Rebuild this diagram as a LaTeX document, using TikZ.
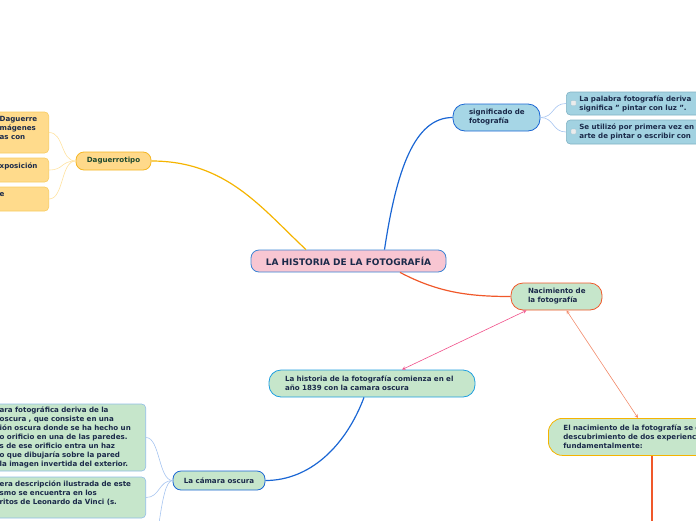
\documentclass[tikz,border=0pt]{standalone}
\usepackage{fontspec}
\setmainfont{DejaVu Sans}
\usepackage{tikz}
\usetikzlibrary{positioning}
\usetikzlibrary{arrows}
\tikzset{>=stealth}

\definecolor{txtnavy}{HTML}{1B2A4A}
\definecolor{txtgreen}{HTML}{1F4A2F}
\definecolor{pinkfill}{HTML}{F8C6D2}
\definecolor{greenfill}{HTML}{C6E6CB}
\definecolor{bluefill}{HTML}{A6D6E6}
\definecolor{leafblue}{HTML}{A2D2E1}
\definecolor{yellowfill}{HTML}{FFD98A}
\definecolor{leafyellow}{HTML}{FFDB8C}
\definecolor{mainblue}{HTML}{3B84D4}
\definecolor{darkblue}{HTML}{1A66D4}
\definecolor{cyanblue}{HTML}{1E9FE0}
\definecolor{orangered}{HTML}{F0582A}
\definecolor{goldline}{HTML}{F5B400}
\definecolor{goldborder}{HTML}{F5B623}
\definecolor{paleyellow}{HTML}{F8CB60}
\definecolor{yellowcurve}{HTML}{FFE2A0}
\definecolor{grayblue}{HTML}{80B2C4}
\definecolor{paleblue}{HTML}{90BDE6}
\definecolor{bluecurve}{HTML}{A6C4F0}
\definecolor{pinkline}{HTML}{F0508A}
\definecolor{salmon}{HTML}{F28A6A}

\tikzset{
  boxtext/.style={font=\bfseries\fontsize{7.1}{9}\selectfont, align=left, inner ysep=0pt},
  mainbox/.style={boxtext, draw=mainblue, fill=pinkfill, text=txtnavy, line width=0.8pt,
    rounded corners=8pt, font=\bfseries\fontsize{9}{10}\selectfont},
  subbox/.style={boxtext, line width=0.8pt, fill=greenfill, text=txtnavy},
  leafbox/.style={boxtext, line width=0.6pt, rounded corners=4pt, text=txtnavy},
  checkbox/.style={draw=grayblue!80, fill=white!85!gray, minimum size=5pt, inner sep=0pt,
    rounded corners=0.5pt, line width=0.4pt},
  branch/.style={line width=1.2pt},
  twig/.style={line width=0.6pt},
  linkarrow/.style={line width=0.6pt, <->}
}

\begin{document}
\begin{tikzpicture}[x=1pt, y=-1pt]
\useasboundingbox (0,0) rectangle (696,520);

% central topic
\node[mainbox, minimum width=195pt, minimum height=22pt] (main) at (348.5,261) {LA HISTORIA DE LA FOTOGRAFÍA};

% Daguerrotipo and its leaves
\node[subbox, draw=goldborder, fill=yellowfill, text=txtgreen, rounded corners=8pt,
  minimum width=75pt, minimum height=18pt] (dag) at (113.5,161) {Daguerrotipo};
\node[leafbox, draw=paleyellow, fill=leafyellow, anchor=east, text width=38pt, inner xsep=11pt,
  minimum height=41pt] (yl1) at (49,132.5) {\mbox{Daguerre}\\\mbox{mágenes}\\\mbox{as con}\\\mbox{}};
\node[leafbox, draw=paleyellow, fill=leafyellow, anchor=east, text width=38pt, inner xsep=11pt,
  minimum height=24pt] (yl2) at (49,170) {\mbox{xposición}\\\mbox{}};
\node[leafbox, draw=paleyellow, fill=leafyellow, anchor=east, text width=38pt, inner xsep=11pt,
  minimum height=24pt] (yl3) at (49,199) {\mbox{e}\\\mbox{}};

% significado de fotografia and its leaves
\node[subbox, draw=darkblue, fill=bluefill, text=txtnavy, rounded corners=12pt,
  minimum width=87pt, minimum height=27pt, text width=55pt, inner xsep=16pt] (sig) at (496.5,117.5)
  {\mbox{significado de}\\\mbox{fotografía}};
\node[leafbox, draw=grayblue, fill=leafblue, anchor=west, text width=180pt, inner xsep=13pt,
  minimum height=23pt] (bl1) at (566,103.5)
  {\mbox{La palabra fotografía deriva}\\\mbox{significa " pintar con luz ".}};
\node[leafbox, draw=grayblue, fill=leafblue, anchor=west, text width=180pt, inner xsep=13pt,
  minimum height=24pt] (bl2) at (566,132)
  {\mbox{Se utilizó por primera vez en}\\\mbox{arte de pintar o escribir con}};
\node[checkbox] (chk1) at (573.5,103) {};
\node[checkbox] (chk2) at (573.5,131.5) {};

% Nacimiento de la fotografia
\node[subbox, draw=orangered, rounded corners=12pt, minimum width=91pt, minimum height=27pt,
  text width=57pt, inner xsep=17pt] (nac) at (556.5,296.5) {\mbox{Nacimiento de}\\\mbox{la fotografía}};
\node[subbox, draw=goldline, anchor=north west, rounded corners=14pt, minimum height=37pt,
  text width=200pt, inner xsep=15pt] (elnac) at (548,418)
  {\mbox{El nacimiento de la fotografía se d}\\\mbox{descubrimiento de dos experienci}\\\mbox{fundamentalmente:}};

% La historia ... 1839
\node[subbox, draw=cyanblue, rounded corners=12pt, minimum width=206pt, minimum height=27pt,
  text width=174pt, inner xsep=16pt] (hist) at (372,383.5)
  {\mbox{La historia de la fotografía comienza en el}\\\mbox{año 1839 con la camara oscura}};

% La camara oscura and its leaves
\node[subbox, draw=darkblue, rounded corners=8pt, minimum width=92pt, minimum height=19pt,
  align=center] (cam) at (219,480.5) {La cámara oscura};
\node[leafbox, draw=paleblue, fill=greenfill, anchor=east, text width=134pt, inner xsep=12pt,
  minimum height=67pt] (gl1) at (146,437.5)
  {\mbox{ara fotográfica deriva de la}\\\mbox{oscura , que consiste en una}\\
   \mbox{ión oscura donde se ha hecho un}\\\mbox{o orificio en una de las paredes.}\\
   \mbox{s de ese orificio entra un haz}\\\mbox{o que dibujaría sobre la pared}\\
   \mbox{la imagen invertida del exterior.}};
\node[leafbox, draw=paleblue, fill=greenfill, anchor=east, text width=134pt, inner xsep=12pt,
  minimum height=41pt] (gl2) at (146,497.5)
  {\mbox{era descripción ilustrada de este}\\\mbox{smo se encuentra en los}\\
   \mbox{ritos de Leonardo da Vinci (s.}\\\mbox{}};
\coordinate (gl3) at (146,562);
\coordinate (elnacend) at (652,530);

% branches
\draw[branch, goldline] (dag.east) .. controls +(75,0) and +(-45,-42) .. ([xshift=-42.5pt]main.north);
\draw[branch, darkblue] ([xshift=36pt]main.north) .. controls +(12,-80) and +(-38,0) .. (sig.west);
\draw[branch, orangered] ([xshift=51.5pt]main.south) .. controls +(38,20) and +(-42,0) .. (nac.west);
\draw[branch, darkblue] ([xshift=-8pt]hist.south) .. controls +(-18,48) and +(45,0) .. (cam.east);
\draw[branch, orangered] ([xshift=104pt]elnac.south west) -- (elnacend);

% twigs to leaves
\foreach \leaf in {yl1,yl2,yl3}
  \draw[twig, yellowcurve] (dag.west) .. controls +(-15,0) and +(15,0) .. (\leaf.east);
\foreach \leaf in {bl1,bl2}
  \draw[twig, bluecurve] (sig.east) .. controls +(14,0) and +(-14,0) .. (\leaf.west);
\foreach \leaf in {gl1,gl2}
  \draw[twig, bluecurve] (cam.west) .. controls +(-14,0) and +(14,0) .. (\leaf.east);
\draw[twig, bluecurve] (cam.west) .. controls +(-14,0) and +(14,0) .. (gl3);

% links
\draw[linkarrow, pinkline] ([xshift=-30pt]nac.south) -- ([xshift=30pt]hist.north);
\draw[linkarrow, salmon] ([xshift=10pt]nac.south) -- ([xshift=90pt]elnac.north west);
\end{tikzpicture}
\end{document}
